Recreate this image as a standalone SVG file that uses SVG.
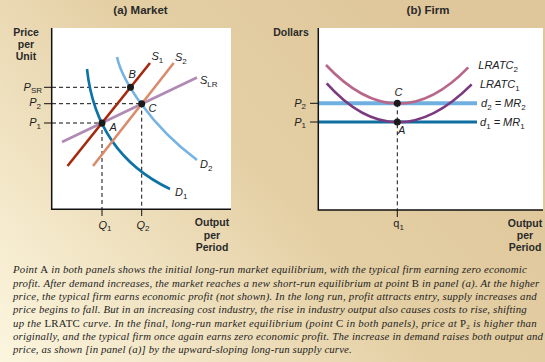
<svg xmlns="http://www.w3.org/2000/svg" width="545" height="362" viewBox="0 0 545 362">
<defs>
<linearGradient id="bg" gradientUnits="userSpaceOnUse" x1="0" y1="362" x2="400" y2="0">
<stop offset="0" stop-color="#fcf6df"/>
<stop offset="0.6" stop-color="#e4cfa4"/>
<stop offset="1" stop-color="#dfc79b"/>
</linearGradient>
<style>
.ttl{font-family:"Liberation Sans",Arial,sans-serif;font-weight:bold;font-size:11.5px;fill:#2a2a2a;text-anchor:middle}
.ax{font-family:"Liberation Sans",Arial,sans-serif;font-weight:bold;font-size:10.5px;fill:#2a2a2a;text-anchor:middle}
.lab{font-family:"Liberation Sans",Arial,sans-serif;font-style:italic;font-size:11px;fill:#222}
.end{text-anchor:end}
.sub{font-style:normal;font-size:8px}
.axis{stroke:#111;stroke-width:1.5;fill:none}
.tick{stroke:#111;stroke-width:1}
.dash{stroke:#111;stroke-width:1;stroke-dasharray:4 3;fill:none}
.cv{fill:none;stroke-width:2.6}
.dot{fill:#1a1a1a}
.cap{font-family:"Liberation Serif","Times New Roman",serif;font-style:italic;font-size:10.8px;fill:#1e1e1e}
.up{font-style:normal}
</style>
</defs>
<rect x="0" y="0" width="545" height="362" fill="url(#bg)"/>

<g id="titles">
<text class="ttl" x="140.5" y="14">(a) Market</text>
<text class="ttl" x="428" y="14">(b) Firm</text>
</g>

<g id="panel-a">
<rect x="52" y="28" width="179" height="181.5" fill="#fff"/>
<text class="ax" x="26" y="36">Price</text>
<text class="ax" x="26" y="48">per</text>
<text class="ax" x="26" y="60">Unit</text>
<text class="ax" x="212" y="226">Output</text>
<text class="ax" x="212" y="238.5">per</text>
<text class="ax" x="212" y="251">Period</text>

<g id="guides-a">
<line class="tick" x1="44" y1="87.3" x2="52" y2="87.3"/>
<line class="tick" x1="44" y1="103.7" x2="52" y2="103.7"/>
<line class="tick" x1="44" y1="123" x2="52" y2="123"/>
<line class="dash" x1="52" y1="87.3" x2="130.5" y2="87.3"/>
<line class="dash" x1="52" y1="103.7" x2="141.7" y2="103.7"/>
<line class="dash" x1="52" y1="123" x2="102" y2="123"/>
<line class="dash" x1="102" y1="123" x2="102" y2="209"/>
<line class="dash" x1="141.7" y1="103.7" x2="141.7" y2="209"/>
<line class="tick" x1="102" y1="209" x2="102" y2="216"/>
<line class="tick" x1="141.7" y1="209" x2="141.7" y2="216"/>
</g>

<g id="curves-a">
<path id="D1" class="cv" stroke="#0d72a6" d="M87,69 C93,125 120,165 170,189"/>
<path id="D2" class="cv" stroke="#74b3e3" d="M117,57 C122,80 150,125 197,160"/>
<line id="SLR" class="cv" stroke="#b08ab4" x1="62" y1="142" x2="197" y2="77.5"/>
<line id="S2" class="cv" stroke="#d98b6c" x1="93" y1="166" x2="173.7" y2="63"/>
<line id="S1" class="cv" stroke="#a3290f" x1="67.5" y1="166" x2="150" y2="63"/>
</g>

<path class="axis" d="M51.7,28 V209.3 H231"/>

<g id="points-a">
<circle class="dot" cx="102" cy="123" r="3.5"/>
<circle class="dot" cx="130.5" cy="87.3" r="3.5"/>
<circle class="dot" cx="141.7" cy="103.7" r="3.5"/>
</g>

<g id="labels-a">
<text class="lab end" x="42" y="91">P<tspan class="sub" dy="2">SR</tspan></text>
<text class="lab end" x="41" y="106">P<tspan class="sub" dy="2.5">2</tspan></text>
<text class="lab end" x="41" y="126">P<tspan class="sub" dy="2.5">1</tspan></text>
<text class="lab" x="98.5" y="228.5">Q<tspan class="sub" dy="2.5">1</tspan></text>
<text class="lab" x="136.5" y="228.5">Q<tspan class="sub" dy="2.5">2</tspan></text>
<text class="lab" x="151.5" y="60">S<tspan class="sub" dy="2.5">1</tspan></text>
<text class="lab" x="175" y="61">S<tspan class="sub" dy="2.5">2</tspan></text>
<text class="lab" x="200" y="84">S<tspan class="sub" dy="2.5">LR</tspan></text>
<text class="lab" x="128.5" y="78">B</text>
<text class="lab" x="148.5" y="112">C</text>
<text class="lab" x="109.5" y="131">A</text>
<text class="lab" x="200" y="168">D<tspan class="sub" dy="2.5">2</tspan></text>
<text class="lab" x="175" y="196">D<tspan class="sub" dy="2.5">1</tspan></text>
</g>
</g>

<g id="panel-b">
<rect x="318" y="28" width="225" height="182" fill="#fff"/>
<text class="ax" x="291" y="36">Dollars</text>
<text class="ax" x="525" y="226.5">Output</text>
<text class="ax" x="525" y="239">per</text>
<text class="ax" x="525" y="251">Period</text>

<g id="demand-b">
<line id="d2" stroke="#6fb0e0" stroke-width="4" x1="318" y1="103.3" x2="477" y2="103.3"/>
<line id="d1" stroke="#0e6fa0" stroke-width="3" x1="318" y1="122" x2="477" y2="122"/>
</g>
<g id="cost-b">
<path id="LRATC2" class="cv" stroke="#b8668a" d="M326,65 Q397.4,141 468.3,67.3"/>
<path id="LRATC1" class="cv" stroke="#7b3a80" d="M326.7,83.3 Q395.6,160.5 471.7,84.3"/>
</g>

<g id="guides-b">
<line class="tick" x1="310" y1="103.3" x2="318" y2="103.3"/>
<line class="tick" x1="310" y1="122" x2="318" y2="122"/>
<line class="dash" x1="397.3" y1="103.3" x2="397.3" y2="210"/>
<line class="tick" x1="397.3" y1="210" x2="397.3" y2="217"/>
</g>

<path class="axis" d="M318.3,28 V210 H543"/>

<g id="points-b">
<circle class="dot" cx="397.3" cy="103.3" r="3.5"/>
<circle class="dot" cx="397.3" cy="122" r="3.5"/>
</g>

<g id="labels-b">
<text class="lab end" x="306" y="106.5">P<tspan class="sub" dy="2.5">2</tspan></text>
<text class="lab end" x="306" y="125.5">P<tspan class="sub" dy="2.5">1</tspan></text>
<text class="lab" x="394.5" y="96">C</text>
<text class="lab" x="398" y="134">A</text>
<text class="lab" x="393.3" y="227" style="font-style:normal">q<tspan class="sub" dy="2.5">1</tspan></text>
<text class="lab" x="478.3" y="69">LRATC<tspan class="sub" dy="2.5">2</tspan></text>
<text class="lab" x="480" y="88">LRATC<tspan class="sub" dy="2.5">1</tspan></text>
<text class="lab" x="481" y="107">d<tspan class="sub" dy="2.5">2</tspan><tspan dy="-2.5"> = MR</tspan><tspan class="sub" dy="2.5">2</tspan></text>
<text class="lab" x="480" y="126">d<tspan class="sub" dy="2.5">1</tspan><tspan dy="-2.5"> = MR</tspan><tspan class="sub" dy="2.5">1</tspan></text>
</g>
</g>

<g id="caption">
<text class="cap" x="13" y="273.3" textLength="513.7" lengthAdjust="spacing">Point <tspan class="up">A</tspan> in both panels shows the initial long-run market equilibrium, with the typical firm earning zero economic</text>
<text class="cap" x="13" y="286.6" textLength="526.3" lengthAdjust="spacing">profit. After demand increases, the market reaches a new short-run equilibrium at point <tspan class="up">B</tspan> in panel (a). At the higher</text>
<text class="cap" x="13" y="299.9" textLength="523.7" lengthAdjust="spacing">price, the typical firm earns economic profit (not shown). In the long run, profit attracts entry, supply increases and</text>
<text class="cap" x="13" y="313.3" textLength="513.7" lengthAdjust="spacing">price begins to fall. But in an increasing cost industry, the rise in industry output also causes costs to rise, shifting</text>
<text class="cap" x="13" y="326.6" textLength="523.7" lengthAdjust="spacing">up the <tspan class="up">LRATC</tspan> curve. In the final, long-run market equilibrium (point <tspan class="up">C</tspan> in both panels), price at <tspan class="up">P</tspan><tspan class="up" font-size="7" dy="2">2</tspan><tspan dy="-2"> is higher than</tspan></text>
<text class="cap" x="13" y="340" textLength="530" lengthAdjust="spacing">originally, and the typical firm once again earns zero economic profit. The increase in demand raises both output and</text>
<text class="cap" x="13" y="353.3" textLength="338.7" lengthAdjust="spacing">price, as shown [in panel (a)] by the upward-sloping long-run supply curve.</text>
</g>
</svg>
